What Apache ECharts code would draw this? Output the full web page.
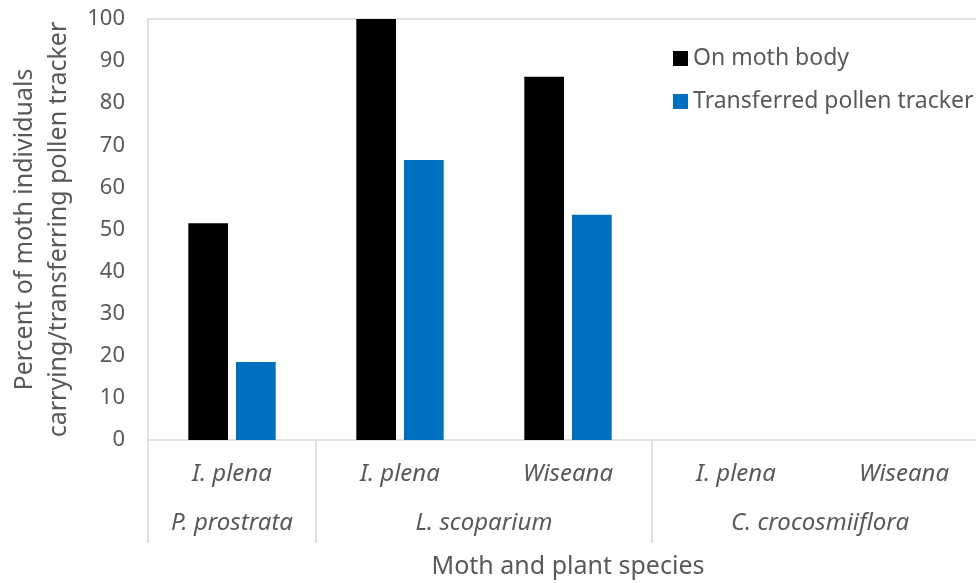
<!DOCTYPE html>
<html>
<head>
<meta charset="utf-8">
<script src="https://cdn.jsdelivr.net/npm/echarts@6/dist/echarts.min.js"></script>
<style>
  html, body { margin: 0; padding: 0; background: #fff; }
  #chart { width: 976px; height: 583px; }
</style>
</head>
<body>
<div id="chart"></div>
<script>
  // moth species (inner level) and plant species (outer level)
  const mothSpecies = ["I. plena", "I. plena", "Wiseana", "I. plena", "Wiseana"];
  const plantSpecies = ["P. prostrata", "L. scoparium", "C. crocosmiiflora"];
  const plantGroupSizes = [1, 2, 2];

  const onMothBody = [51.5, 100, 86.3, 0, 0];
  const transferred = [18.5, 66.5, 53.5, 0, 0];

  const yTicks = [0, 10, 20, 30, 40, 50, 60, 70, 80, 90, 100];

  // group boundaries / centers on a 0..n value scale
  const bounds = [0];
  plantGroupSizes.forEach(function (s) { bounds.push(bounds[bounds.length - 1] + s); });
  const centers = plantSpecies.map(function (_, i) { return (bounds[i] + bounds[i + 1]) / 2; });

  const textColor = "#595959";
  const font = "Noto Sans";

  const chart = echarts.init(document.getElementById("chart"), null, { renderer: "canvas" });

  chart.setOption({
    animation: false,
    textStyle: { fontFamily: font },
    grid: {
      left: 148,
      right: -12,
      top: 19,
      bottom: 143,
      outerBoundsMode: "none",
      containLabel: false,
      show: true,
      borderColor: "#d9d9d9",
      borderWidth: 1.5,
    },
    legend: {
      orient: "vertical",
      left: 668,
      top: 42,
      itemWidth: 15,
      itemHeight: 15,
      itemGap: 20,
      icon: "rect",
      textStyle: { fontFamily: font, fontSize: 23, color: textColor },
      data: ["On moth body", "Transferred pollen tracker"],
    },
    xAxis: [
      {
        type: "category",
        data: mothSpecies,
        axisLine: { show: false },
        axisTick: { show: false },
        axisLabel: {
          margin: 22,
          fontSize: 24,
          fontStyle: "italic",
          color: textColor,
          fontFamily: font,
        },
      },
      {
        type: "value",
        min: 0,
        max: bounds[bounds.length - 1],
        position: "bottom",
        axisLine: { show: false },
        splitLine: { show: false },
        axisTick: {
          show: true,
          customValues: bounds,
          length: 103,
          lineStyle: { color: "#d9d9d9", width: 1.5 },
        },
        axisLabel: {
          customValues: centers,
          margin: 71,
          fontSize: 24,
          fontStyle: "italic",
          color: textColor,
          fontFamily: font,
          formatter: function (v) {
            const i = centers.indexOf(v);
            return i >= 0 ? plantSpecies[i] : "";
          },
        },
        name: "Moth and plant species",
        nameLocation: "middle",
        nameGap: 114,
        nameTextStyle: { fontSize: 25, color: textColor, fontFamily: font },
      },
    ],
    yAxis: {
      type: "value",
      min: yTicks[0],
      max: yTicks[yTicks.length - 1],
      interval: 10,
      axisLine: { show: false },
      axisTick: { show: false },
      splitLine: { show: false },
      axisLabel: { margin: 23, fontSize: 22, color: textColor, fontFamily: font },
      name: "Percent of moth individuals\ncarrying/transferring pollen tracker",
      nameLocation: "middle",
      nameGap: 67,
      nameTextStyle: { fontSize: 25, color: textColor, fontFamily: font, lineHeight: 34 },
    },
    series: [
      {
        name: "On moth body",
        type: "bar",
        data: onMothBody,
        barGap: "20%",
        barCategoryGap: "48%",
        itemStyle: { color: "#000000" },
      },
      {
        name: "Transferred pollen tracker",
        type: "bar",
        data: transferred,
        itemStyle: { color: "#0070C0" },
      },
    ],
  });
</script>
</body>
</html>
